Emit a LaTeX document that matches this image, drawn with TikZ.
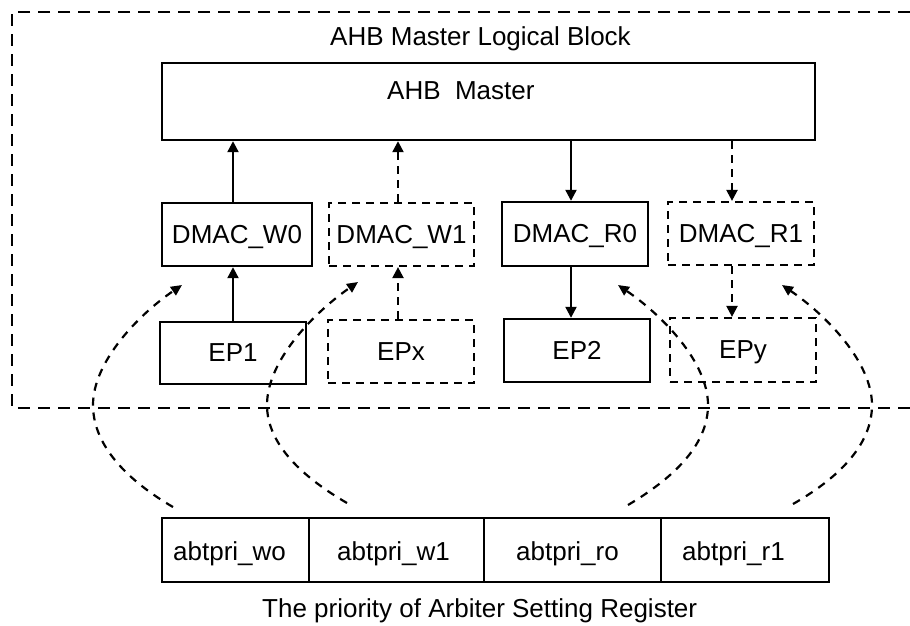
\documentclass[tikz,border=0pt]{standalone}
\usepackage{fontspec}
\setmainfont{Liberation Sans}
\usetikzlibrary{arrows.meta,calc}
\begin{document}
\begin{tikzpicture}[x=1pt,y=-1pt,
  txt/.style={font=\fontsize{26}{30}\selectfont,inner sep=0pt,anchor=base west},
  box/.style={draw,line width=2.4pt,rectangle,inner sep=0pt,font=\fontsize{26}{30}\selectfont,text height=19pt,text depth=2pt},
  dbox/.style={box,dash pattern=on 8pt off 6pt,line width=2.2pt},
  arr/.style={line width=2.2pt,-{Triangle[length=11pt,width=11pt]}},
  darr/.style={arr,dash pattern=on 8pt off 6pt},
  carr/.style={line width=2.2pt,dash pattern=on 8pt off 7pt,-{Triangle[length=11pt,width=10pt]}},
  outer/.style={line width=2.4pt,dash pattern=on 12pt off 8pt}]
\useasboundingbox (0,0) rectangle (910,625);

% outer logical block (open on the right)
\draw[outer] (910,12) -- (12,12) -- (12,408) -- (910,408);
\node[txt] (title) at (330,45) {AHB Master Logical Block};

% AHB master
\node[box,minimum width=653pt,minimum height=77pt] (ahb) at (488.5,101.5) {};
\node[txt] (ahbtext) at (387,99) {AHB\ \ Master};

% DMAC blocks
\node[box,minimum width=150pt,minimum height=63pt] (w0) at (237,234.5) {DMAC\_W0};
\node[dbox,minimum width=145pt,minimum height=63pt] (w1) at (401.5,234.5) {DMAC\_W1};
\node[box,minimum width=146pt,minimum height=64pt] (r0) at (575,234) {DMAC\_R0};
\node[dbox,minimum width=146pt,minimum height=63pt] (r1) at (741,233.5) {DMAC\_R1};

% endpoints
\node[box,minimum width=146pt,minimum height=62pt] (ep1) at (233,353) {EP1};
\node[dbox,minimum width=146pt,minimum height=63pt] (epx) at (401,351.5) {EPx};
\node[box,minimum width=146pt,minimum height=63pt] (ep2) at (577,350.5) {EP2};
\node[dbox,minimum width=146pt,minimum height=64pt] (epy) at (743,350) {EPy};

% vertical arrows
\draw[arr] (ep1.north) -- (ep1.north |- w0.south);
\draw[arr] (ep1.north |- w0.north) -- (ep1.north |- ahb.south);
\draw[darr] ([xshift=-3pt]epx.north) -- ([xshift=-3pt]epx.north |- w1.south);
\draw[darr] ([xshift=-3pt]epx.north |- w1.north) -- ([xshift=-3pt]epx.north |- ahb.south);
\draw[arr] ([xshift=-6pt]ep2.north |- ahb.south) -- ([xshift=-6pt]ep2.north |- r0.north);
\draw[arr] ([xshift=-6pt]ep2.north |- r0.south) -- ([xshift=-6pt]ep2.north);
\draw[darr] ([xshift=-11pt]epy.north |- ahb.south) -- ([xshift=-11pt]epy.north |- r1.north);
\draw[darr] ([xshift=-11pt]epy.north |- r1.south) -- ([xshift=-11pt]epy.north);

% register
\node[box,minimum width=147pt,minimum height=64pt] (c1) at (235.5,550) {};
\node[box,minimum width=175pt,minimum height=64pt] (c2) at (396.5,550) {};
\node[box,minimum width=177pt,minimum height=64pt] (c3) at (572.5,550) {};
\node[box,minimum width=168pt,minimum height=64pt] (c4) at (745,550) {};
\node[txt] (t1) at (173,560) {abtpri\_wo};
\node[txt] (t2) at (337,560) {abtpri\_w1};
\node[txt] (t3) at (516,560) {abtpri\_ro};
\node[txt] (t4) at (682,560) {abtpri\_r1};
\node[txt] (cap) at (262,617) {The priority of Arbiter Setting Register};

% curved dashed arrows
\coordinate (s1) at (173,507); \coordinate (e1) at (182,285);
\coordinate (s2) at (347,503); \coordinate (e2) at (358,282);
\coordinate (s3) at (628,505); \coordinate (e3) at (618,285);
\coordinate (s4) at (793,504); \coordinate (e4) at (782,285);
\draw[carr] (s1) .. controls (130,482) and (93,447) .. (93,405) .. controls (93,362) and (138,315) .. (e1);
\draw[carr] (s2) .. controls (304,478) and (267,445) .. (267,405) .. controls (267,360) and (315,312) .. (e2);
\draw[carr] (s3) .. controls (670,480) and (708,447) .. (708,405) .. controls (708,362) and (662,315) .. (e3);
\draw[carr] (s4) .. controls (835,480) and (872,447) .. (872,405) .. controls (872,362) and (826,315) .. (e4);
\end{tikzpicture}
\end{document}
